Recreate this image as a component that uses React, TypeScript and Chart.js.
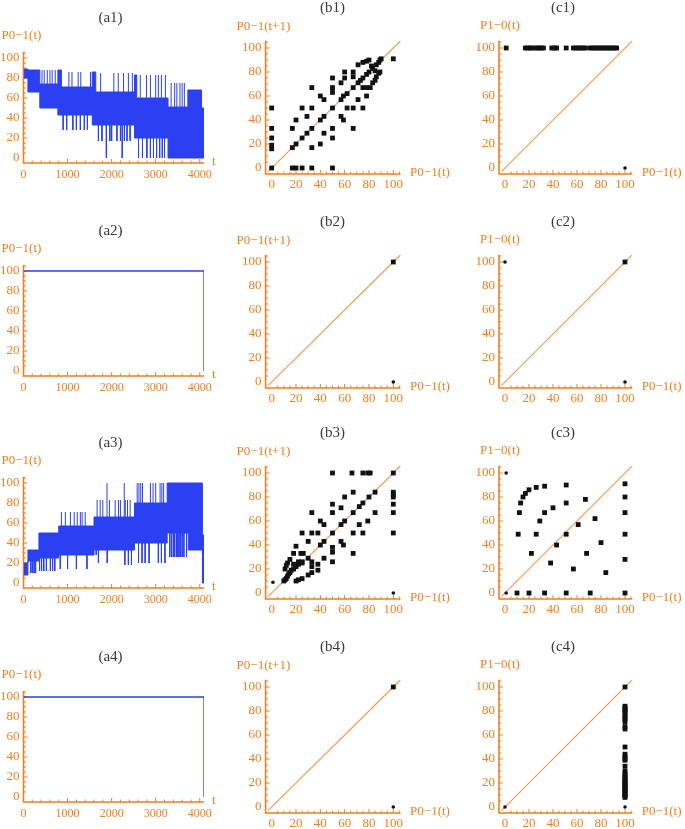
import React, { useEffect, useRef } from 'react';
import { Chart, registerables } from 'chart.js';
Chart.register(...registerables);

// ---------- colours / fonts ----------
const ORANGE = '#f07f1e';
const DIAG = '#f49a55';
const BLUE = '#2b40f2';
const DOT = '#111111';
const TITLE = '#3a3a3a';
const SERIF = '"Liberation Serif", "DejaVu Serif", serif';

// ---------- tick labels ----------
const A_X_TICKS = [0, 1000, 2000, 3000, 4000];
const Y_TICKS = [0, 20, 40, 60, 80, 100];
const BC_X_TICKS = [0, 20, 40, 60, 80, 100];

// ---------- (a1) time series: regimes (band low..high) + spikes ----------
const A1_T = [0, 100, 370, 780, 860, 1560, 1640, 2520, 2570, 3280, 3730, 4040, 4096];
const A1_HIGH = [89, 88, 74, 88, 71, 86, 66, 83, 60, 51, 68, 50, 50];
const A1_LOW = [80, 66, 50, 43, 43, 33, 33, 20, 20, 0, 0, 0, 0];
const A1_SPIKE_T = [
  420, 470, 540, 600, 650, 720,
  1030, 1100, 1240, 1300, 1520,
  1750, 2050, 2150, 2270, 2380, 2470,
  2650, 2790, 2880, 3000, 3060, 3130, 3220,
  3350, 3430, 3480, 3550, 3600, 3650,
  900, 980, 1120, 1200, 1290, 1380, 1450,
  1700, 1780, 1880, 1960, 2000, 2120, 2200, 2240, 2290, 2350, 2420,
  2610, 2700, 2800, 2880, 2950, 3020, 3090, 3150, 3200,
];
const A1_SPIKE_FROM = [
  74, 74, 74, 74, 74, 74,
  71, 71, 71, 71, 71,
  66, 66, 66, 66, 66, 66,
  60, 60, 60, 60, 60, 60, 60,
  51, 51, 51, 51, 51, 51,
  43, 43, 43, 43, 43, 43, 43,
  33, 33, 33, 33, 33, 33, 33, 33, 33, 33, 33,
  20, 20, 20, 20, 20, 20, 20, 20, 20,
];
const A1_SPIKE_TO = [
  88, 88, 88, 88, 88, 88,
  86, 86, 86, 86, 86,
  85, 85, 85, 85, 85, 85,
  83, 83, 83, 83, 83, 83, 83,
  75, 75, 75, 75, 75, 75,
  28, 28, 28, 28, 28, 28, 28,
  17, 17, 0, 17, 17, 17, 17, 0, 17, 17, 17,
  0, 0, 0, 0, 0, 0, 0, 0, 0,
];

// ---------- (a3) time series ----------
const A3_T = [0, 100, 350, 800, 1600, 2520, 3260, 3740, 4060, 4096];
const A3_HIGH = [20, 33, 50, 57, 66, 80, 100, 100, 48, 48];
const A3_LOW = [8, 22, 25, 28, 33, 40, 50, 33, 0, 0];
const A3_SPIKE_T = [
  165, 200, 240, 275,
  365, 410, 460, 520, 610, 660, 710,
  835, 1000, 1200, 1440,
  860, 950, 1065, 1150, 1220, 1290, 1330, 1400,
  1670, 1740, 1800, 1950, 2080, 2155, 2200, 2310, 2360, 2420, 1895, 2286,
  1650, 1700, 1900, 2300, 2380, 2450,
  2580, 2620, 2660, 2700, 2880, 2940, 3000, 3100, 3140, 3180,
  2610, 2690, 2760, 2850, 3060, 3130, 3210,
  3320, 3360, 3400, 3430, 3470, 3500, 3530, 3560, 3600, 3640, 3700,
];
const A3_SPIKE_FROM = [
  22, 22, 22, 22,
  25, 25, 25, 25, 25, 25, 25,
  28, 28, 28, 28,
  57, 57, 57, 57, 57, 57, 57, 57,
  66, 66, 66, 66, 66, 66, 66, 66, 66, 66, 66, 66,
  33, 33, 33, 33, 33, 33,
  80, 80, 80, 80, 80, 80, 80, 80, 80, 80,
  40, 40, 40, 40, 40, 40, 40,
  50, 50, 50, 50, 50, 50, 50, 50, 50, 50, 50,
];
const A3_SPIKE_TO = [
  10, 10, 10, 10,
  12, 12, 12, 12, 12, 12, 12,
  14, 14, 14, 14,
  71, 71, 71, 71, 71, 71, 71, 71,
  83, 83, 83, 83, 83, 83, 83, 83, 83, 83, 100, 100,
  28, 20, 20, 18, 18, 18,
  100, 100, 100, 100, 100, 100, 100, 100, 100, 100,
  20, 20, 20, 20, 20, 20, 20,
  26, 26, 26, 26, 26, 26, 26, 26, 26, 26, 26,
];

// ---------- (a2), (a4) time series ----------
const A2_T = [0, 4096, 4096];
const A2_V = [100, 100, 0];
const A4_T = [0, 4096, 4096];
const A4_V = [100, 100, 0];

// ---------- return maps: [x, y] ----------
const B1_SQ: [number, number][] = [
  [0, 0], [0, 16], [0, 19], [0, 25], [0, 33], [0, 50],
  [17, 0], [20, 0], [25, 0], [33, 0], [50, 0],
  [17, 33], [17, 17], [20, 20], [20, 40], [25, 25], [25, 50], [29, 29], [29, 43], [33, 33], [33, 50], [33, 17], [33, 67],
  [40, 60], [43, 57], [40, 40], [43, 43], [40, 20], [43, 29],
  [50, 75], [50, 67], [50, 63], [50, 50], [50, 33], [50, 25],
  [57, 43], [59, 40], [57, 57], [59, 60], [57, 71], [60, 75], [60, 80], [62, 50], [67, 50], [67, 33], [62, 62], [67, 67], [67, 76], [67, 80],
  [71, 57], [75, 50], [75, 67], [78, 67], [78, 60], [81, 67], [71, 71], [75, 75], [78, 78], [71, 86], [75, 88], [78, 89], [80, 90],
  [73, 73], [80, 80], [83, 83], [82, 85], [85, 81], [86, 86], [88, 88], [89, 90], [90, 91],
  [83, 71], [85, 73], [86, 76], [88, 79], [89, 80], [100, 91],
];
const B1_DOT: [number, number][] = [];

const C1_SQ: [number, number][] = [
  [1, 100], [17, 100], [19, 100], [21, 100], [23, 100], [26, 100], [28, 100], [30, 100], [32, 100],
  [39, 100], [41, 100], [43, 100], [51, 100], [57, 100], [59, 100], [61, 100], [63, 100], [65, 100], [67, 100],
  [71, 100], [73, 100], [75, 100], [77, 100], [79, 100], [81, 100], [83, 100], [85, 100], [87, 100], [89, 100], [91, 100], [93, 100],
];
const C1_DOT: [number, number][] = [[100, 0]];

const B2_SQ: [number, number][] = [[100, 100]];
const B2_DOT: [number, number][] = [[100, 0]];
const C2_SQ: [number, number][] = [[100, 100]];
const C2_DOT: [number, number][] = [[0, 100], [100, 0]];

const B3_SQ: [number, number][] = [
  [10, 10], [11, 11], [12, 12], [13, 14], [14, 16], [15, 17], [16, 19], [18, 20], [20, 22], [22, 24], [25, 25],
  [11, 20], [12, 23], [13, 25], [15, 28], [18, 33], [20, 10], [22, 11], [25, 12], [30, 15], [33, 17], [38, 19],
  [33, 22], [38, 24], [18, 24], [22, 26], [25, 26], [30, 29], [33, 26], [43, 29], [50, 26], [20, 39], [24, 33], [26, 33],
  [25, 50], [30, 43], [33, 50], [38, 50], [33, 67], [40, 40], [43, 43], [40, 60], [43, 57], [50, 34], [50, 38], [50, 50],
  [50, 67], [50, 74], [50, 100], [57, 43], [59, 40], [57, 57], [60, 60], [57, 71], [60, 80], [67, 33], [67, 50], [67, 67],
  [67, 84], [66, 100], [72, 57], [75, 50], [72, 72], [75, 75], [79, 60], [80, 80], [85, 67], [85, 84], [75, 100], [79, 100],
  [81, 100], [100, 100], [100, 84], [100, 82], [100, 80], [100, 74], [100, 67], [100, 50],
];
const B3_DOT: [number, number][] = [[1, 9], [100, 0]];

const C3_SQ: [number, number][] = [
  [11, 49], [12, 67], [13, 75], [15, 80], [17, 83], [20, 86], [26, 88], [33, 89], [51, 90],
  [22, 33], [26, 49], [29, 60], [33, 67], [40, 71], [51, 75], [67, 78],
  [43, 40], [38, 25], [51, 49], [61, 57], [75, 62], [80, 42], [57, 20], [68, 33], [84, 17],
  [100, 91], [100, 80], [100, 67], [100, 49], [100, 28], [100, 0],
  [10, 0], [20, 0], [33, 0], [51, 0], [71, 0],
];
const C3_DOT: [number, number][] = [[1, 100], [1, 0]];

const B4_SQ: [number, number][] = [[100, 100]];
const B4_DOT: [number, number][] = [[100, 0]];
const C4_SQ: [number, number][] = [
  [100, 100], [100, 84], [100, 83], [100, 81], [100, 80], [100, 79], [100, 76], [100, 75], [100, 73], [100, 71],
  [100, 67], [100, 65], [100, 50], [100, 44], [100, 42], [100, 40], [100, 39], [100, 34], [100, 30], [100, 28],
  [100, 26], [100, 25], [100, 24], [100, 22], [100, 21], [100, 20], [100, 19], [100, 18], [100, 17], [100, 16],
  [100, 15], [100, 14], [100, 13], [100, 12], [100, 11], [100, 10], [100, 9], [100, 8],
];
const C4_DOT: [number, number][] = [[0, 0], [100, 0]];

// ---------- geometry ----------
const W = 685;
const H = 829;
const COL_X: Record<string, [number, number]> = { a: [23.5, 204], b: [265.6, 400.6], c: [499, 632.2] };
const A_ROW_TOP = [52, 265, 477, 691];
const BC_ROW_100 = [48, 262, 473, 687];

type Col = 'a' | 'b' | 'c';

const mmaAxes = {
  id: 'mmaAxes',
  beforeDatasetsDraw(chart: any) {
    const o = chart.options.plugins.mmaAxes;
    if (!o) return;
    const ctx = chart.ctx;
    const ca = chart.chartArea;
    const xs = chart.scales.x;
    const ys = chart.scales.y;
    ctx.save();
    ctx.strokeStyle = ORANGE;
    ctx.lineWidth = 1.6;
    ctx.beginPath();
    ctx.moveTo(ca.left, ca.top);
    ctx.lineTo(ca.left, ca.bottom);
    ctx.lineTo(ca.right, ca.bottom);
    ctx.stroke();
    ctx.lineWidth = 1;
    ctx.beginPath();
    for (let v = o.xMinorStep; v <= o.xMax; v += o.xMinorStep) {
      const p = xs.getPixelForValue(v);
      const major = o.xTicks.includes(v);
      ctx.moveTo(p, ca.bottom);
      ctx.lineTo(p, ca.bottom - (major ? 4 : 2.5));
    }
    for (let v = 5; v <= 105; v += 5) {
      const p = ys.getPixelForValue(v);
      const major = Y_TICKS.includes(v);
      ctx.moveTo(ca.left, p);
      ctx.lineTo(ca.left + (major ? 4 : 2.5), p);
    }
    ctx.stroke();
    ctx.restore();
  },
  afterDraw(chart: any) {
    const o = chart.options.plugins.mmaAxes;
    if (!o) return;
    const ctx = chart.ctx;
    const ca = chart.chartArea;
    const xs = chart.scales.x;
    const ys = chart.scales.y;
    ctx.save();
    ctx.fillStyle = ORANGE;
    ctx.font = `${o.xFont}px ${SERIF}`;
    ctx.textAlign = 'center';
    ctx.textBaseline = 'middle';
    for (const v of o.xTicks) {
      ctx.fillText(String(v), xs.getPixelForValue(v), ca.bottom + o.xLabGap);
    }
    ctx.font = `13px ${SERIF}`;
    ctx.textAlign = 'right';
    for (const v of Y_TICKS) {
      ctx.fillText(String(v), ca.left - 4, ys.getPixelForValue(v));
    }
    ctx.textAlign = 'left';
    ctx.fillText(o.yLabel, ca.left + o.yLabDx, ca.top + o.yLabDy);
    ctx.fillText(o.xLabel, ca.right + o.xLabDx, ca.bottom - 1);
    ctx.fillStyle = TITLE;
    ctx.font = `15px ${SERIF}`;
    ctx.textAlign = 'center';
    ctx.fillText(o.title, ca.left + o.titleDx, ca.top + o.titleDy);
    ctx.restore();
  },
};

function bandDatasets(T: number[], HIGH: number[], LOW: number[], ST: number[], SF: number[], STO: number[]) {
  const spikes: any[] = [];
  ST.forEach((t, i) => {
    spikes.push({ x: t, y: SF[i] }, { x: t, y: STO[i] }, { x: t, y: null });
  });
  return [
    { data: spikes, borderColor: BLUE, borderWidth: 1, pointRadius: 0, spanGaps: false, fill: false },
    {
      data: T.map((t, i) => ({ x: t, y: HIGH[i] })), stepped: true, borderColor: BLUE, borderWidth: 1,
      pointRadius: 0, fill: '+1', backgroundColor: BLUE,
    },
    { data: T.map((t, i) => ({ x: t, y: LOW[i] })), stepped: true, borderColor: BLUE, borderWidth: 1, pointRadius: 0, fill: false },
  ];
}

function lineDatasets(T: number[], V: number[]) {
  return [{ data: T.map((t, i) => ({ x: t, y: V[i] })), borderColor: BLUE, borderWidth: 1.3, pointRadius: 0, fill: false }];
}

function mapDatasets(SQ: [number, number][], DOTS: [number, number][]) {
  return [
    {
      data: SQ.map(([x, y]) => ({ x, y })), showLine: false, pointStyle: 'rect', pointRadius: 3.4,
      pointBackgroundColor: DOT, pointBorderWidth: 0, pointBorderColor: DOT, clip: false,
    },
    {
      data: DOTS.map(([x, y]) => ({ x, y })), showLine: false, pointStyle: 'circle', pointRadius: 1.8,
      pointBackgroundColor: DOT, pointBorderWidth: 0, pointBorderColor: DOT, clip: false,
    },
    { data: [{ x: -3, y: -3 }, { x: 106, y: 106 }], borderColor: DIAG, borderWidth: 1.2, pointRadius: 0, fill: false },
  ];
}

type PanelDef = { col: Col; row: number; title: string; datasets: any[] };

const PANELS: PanelDef[] = [
  { col: 'a', row: 0, title: '(a1)', datasets: bandDatasets(A1_T, A1_HIGH, A1_LOW, A1_SPIKE_T, A1_SPIKE_FROM, A1_SPIKE_TO) },
  { col: 'b', row: 0, title: '(b1)', datasets: mapDatasets(B1_SQ, B1_DOT) },
  { col: 'c', row: 0, title: '(c1)', datasets: mapDatasets(C1_SQ, C1_DOT) },
  { col: 'a', row: 1, title: '(a2)', datasets: lineDatasets(A2_T, A2_V) },
  { col: 'b', row: 1, title: '(b2)', datasets: mapDatasets(B2_SQ, B2_DOT) },
  { col: 'c', row: 1, title: '(c2)', datasets: mapDatasets(C2_SQ, C2_DOT) },
  { col: 'a', row: 2, title: '(a3)', datasets: bandDatasets(A3_T, A3_HIGH, A3_LOW, A3_SPIKE_T, A3_SPIKE_FROM, A3_SPIKE_TO) },
  { col: 'b', row: 2, title: '(b3)', datasets: mapDatasets(B3_SQ, B3_DOT) },
  { col: 'c', row: 2, title: '(c3)', datasets: mapDatasets(C3_SQ, C3_DOT) },
  { col: 'a', row: 3, title: '(a4)', datasets: lineDatasets(A4_T, A4_V) },
  { col: 'b', row: 3, title: '(b4)', datasets: mapDatasets(B4_SQ, B4_DOT) },
  { col: 'c', row: 3, title: '(c4)', datasets: mapDatasets(C4_SQ, C4_DOT) },
];

function Panel({ def }: { def: PanelDef }) {
  const ref = useRef<HTMLCanvasElement | null>(null);
  useEffect(() => {
    if (!ref.current) return;
    const { col, row } = def;
    const [left, right] = COL_X[col];
    let top: number, bottom: number;
    if (col === 'a') {
      top = A_ROW_TOP[row];
      bottom = top + 111;
    } else {
      top = BC_ROW_100[row] - 7.2;
      bottom = BC_ROW_100[row] + 126;
    }
    const isA = col === 'a';
    const axesOpts = isA
      ? {
        title: def.title, titleDx: 87, titleDy: -34, yLabel: 'P0−1(t)', yLabDx: -22, yLabDy: -16,
        xLabel: 't', xLabDx: 8, xTicks: A_X_TICKS, xMinorStep: 200, xMax: 4096, xFont: 12, xLabGap: 12,
      }
      : {
        title: def.title, titleDx: col === 'b' ? 67 : 64, titleDy: -33,
        yLabel: col === 'b' ? 'P0−1(t+1)' : 'P1−0(t)', yLabDx: col === 'b' ? -29 : -19, yLabDy: col === 'b' ? -14 : -15,
        xLabel: 'P0−1(t)', xLabDx: 9.5, xTicks: BC_X_TICKS, xMinorStep: 5, xMax: 105, xFont: 13, xLabGap: 11,
      };
    const chart = new Chart(ref.current, {
      type: 'line',
      data: { datasets: def.datasets },
      options: {
        animation: false,
        responsive: false,
        maintainAspectRatio: false,
        events: [],
        layout: { padding: { left, top, right: W - right, bottom: H - bottom } },
        scales: {
          x: { type: 'linear', display: false, min: isA ? 0 : -5, max: isA ? 4096 : 106 },
          y: { type: 'linear', display: false, min: -5, max: 106 },
        },
        plugins: {
          legend: { display: false },
          tooltip: { enabled: false },
          title: { display: false },
          mmaAxes: axesOpts,
        } as any,
      } as any,
      plugins: [mmaAxes as any],
    });
    return () => chart.destroy();
  }, [def]);
  return (
    <canvas
      ref={ref}
      width={W}
      height={H}
      style={{ position: 'absolute', left: 0, top: 0, width: W, height: H }}
    />
  );
}

export default function App() {
  return (
    <div style={{ position: 'fixed', left: 0, top: 0, width: W, height: H, background: '#ffffff', overflow: 'hidden' }}>
      {PANELS.map((p) => (
        <Panel key={p.title} def={p} />
      ))}
    </div>
  );
}
